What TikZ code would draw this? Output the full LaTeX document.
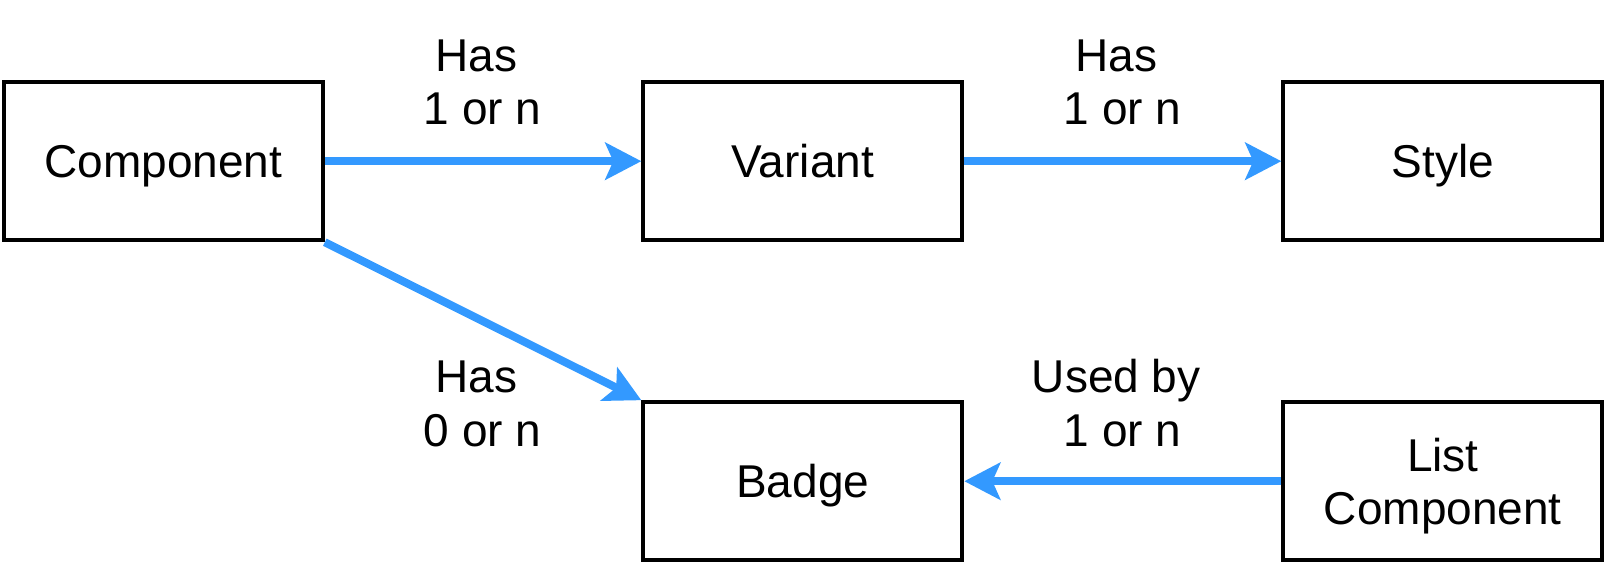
\documentclass[tikz,border=0pt]{standalone}
\usepackage{fontspec}
\setmainfont{Liberation Sans}
\usetikzlibrary{arrows.meta}
\definecolor{arrowblue}{HTML}{3399FF}
\begin{document}
\begin{tikzpicture}[x=1pt,y=-1pt,
  box/.style={draw=black, line width=4pt, minimum width=319pt, minimum height=158pt,
    inner sep=0pt, align=center, text depth=0pt, font=\fontsize{46}{53}\selectfont},
  link/.style={draw=arrowblue, line width=8pt, -{Stealth[length=36pt,width=37pt,inset=8pt]}},
  lbl/.style={align=center, font=\fontsize{46}{53.5}\selectfont, inner sep=0pt, anchor=base}]
\useasboundingbox (0,0) rectangle (1606,564);
\node[box] (comp) at (163.3,161.2) {Component};
\node[box] (var) at (802.8,161.2) {Variant};
\node[box] (style) at (1442.8,161.2) {Style};
\node[box] (badge) at (802.8,481.2) {Badge};
\node[box] (list) at (1442.8,481.2) {List\\Component};
\draw[link] (comp.east) -- (var.west);
\draw[link] (var.east) -- (style.west);
\draw[link] (comp.south east) -- (badge.north west);
\draw[link] (list.west) -- (badge.east);
\node[lbl] (l1) at (482.5,125) {Has\kern12.5pt\\1 or n};
\node[lbl] (l2) at (1122.5,125) {Has\kern12.5pt\\1 or n};
\node[lbl] (l3) at (482.5,446) {Has\kern12.5pt\\0 or n};
\node[lbl] (l4) at (1122.5,446) {Used by\kern12.5pt\\1 or n};
\end{tikzpicture}
\end{document}
